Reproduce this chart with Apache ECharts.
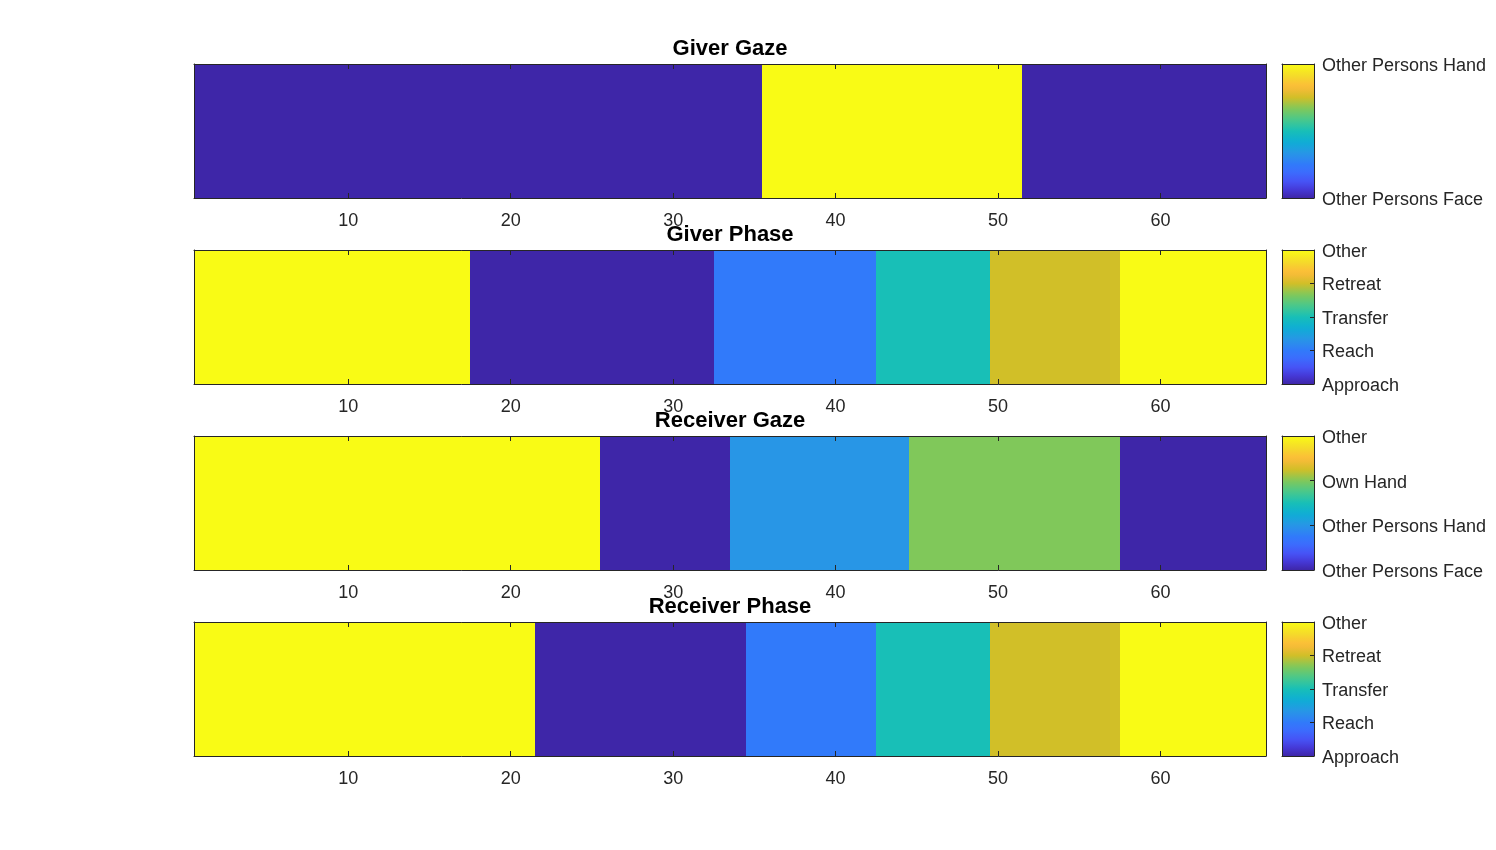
<!DOCTYPE html>
<html>
<head>
<meta charset="utf-8">
<script src="https://cdn.jsdelivr.net/npm/echarts@6/dist/echarts.min.js"></script>
<style>
html,body{margin:0;padding:0;background:#ffffff;}
#chart{width:1496px;height:850px;}
</style>
</head>
<body>
<div id="chart"></div>
<script>
// ---------------- data ----------------
const panelTitles = ['Giver Gaze', 'Giver Phase', 'Receiver Gaze', 'Receiver Phase'];

const giverGazeLabels = ['Other Persons Face', 'Other Persons Hand'];
const phaseLabels = ['Approach', 'Reach', 'Transfer', 'Retreat', 'Other'];
const receiverGazeLabels = ['Other Persons Face', 'Other Persons Hand', 'Own Hand', 'Other'];

const xTickValues = [10, 20, 30, 40, 50, 60];

// one code per frame (frames 1..66); code = 1-based index into the panel's label list
const giverGaze = [
  1,1,1,1,1,1,1,1,1,1, 1,1,1,1,1,1,1,1,1,1, 1,1,1,1,1,1,1,1,1,1, 1,1,1,1,1,
  2,2,2,2,2,2,2,2,2,2,2,2,2,2,2,2,
  1,1,1,1,1,1,1,1,1,1,1,1,1,1,1
];
const giverPhase = [
  5,5,5,5,5,5,5,5,5,5,5,5,5,5,5,5,5,
  1,1,1,1,1,1,1,1,1,1,1,1,1,1,1,
  2,2,2,2,2,2,2,2,2,2,
  3,3,3,3,3,3,3,
  4,4,4,4,4,4,4,4,
  5,5,5,5,5,5,5,5,5
];
const receiverGaze = [
  4,4,4,4,4,4,4,4,4,4,4,4,4,4,4,4,4,4,4,4,4,4,4,4,4,
  1,1,1,1,1,1,1,1,
  2,2,2,2,2,2,2,2,2,2,2,
  3,3,3,3,3,3,3,3,3,3,3,3,3,
  1,1,1,1,1,1,1,1,1
];
const receiverPhase = [
  5,5,5,5,5,5,5,5,5,5,5,5,5,5,5,5,5,5,5,5,5,
  1,1,1,1,1,1,1,1,1,1,1,1,1,
  2,2,2,2,2,2,2,2,
  3,3,3,3,3,3,3,
  4,4,4,4,4,4,4,4,
  5,5,5,5,5,5,5,5,5
];

const panelValues = [giverGaze, giverPhase, receiverGaze, receiverPhase];
const panelLabels = [giverGazeLabels, phaseLabels, receiverGazeLabels, phaseLabels];

// parula colormap anchors
const parulaStops = [
  [0.00, [62, 38, 168]],
  [0.06, [69, 56, 214]],
  [0.12, [71, 82, 245]],
  [0.19, [60, 108, 253]],
  [0.25, [49, 122, 250]],
  [0.333, [40, 150, 230]],
  [0.42, [14, 174, 212]],
  [0.50, [24, 191, 183]],
  [0.58, [70, 200, 142]],
  [0.667, [128, 200, 90]],
  [0.75, [209, 191, 40]],
  [0.83, [252, 187, 58]],
  [0.91, [245, 218, 42]],
  [1.00, [249, 251, 21]]
];

// ---------------- helpers ----------------
function parula(t) {
  t = Math.max(0, Math.min(1, t));
  for (let i = 1; i < parulaStops.length; i++) {
    const a = parulaStops[i - 1], b = parulaStops[i];
    if (t <= b[0]) {
      const f = (t - a[0]) / (b[0] - a[0]);
      const c = a[1].map((v, k) => Math.round(v + (b[1][k] - v) * f));
      return 'rgb(' + c.join(',') + ')';
    }
  }
  return 'rgb(' + parulaStops[parulaStops.length - 1][1].join(',') + ')';
}

const FONT = '"Liberation Sans", Arial, Helvetica, sans-serif';
const AX = '#262626';
const gridTops = [64, 250, 436, 622];
const gridH = 134;
const plotLeft = 194, plotWidth = 1072;
const cbLeft = 1282, cbWidth = 32;

const grids = [], xAxes = [], yAxes = [], series = [];

panelValues.forEach((vals, p) => {
  const n = panelLabels[p].length;
  const gi = grids.length;
  grids.push({left: plotLeft, top: gridTops[p], width: plotWidth, height: gridH});
  const cbi = grids.length;
  grids.push({left: cbLeft, top: gridTops[p], width: cbWidth, height: gridH});

  // main plot axes
  const xb = xAxes.length;
  xAxes.push({
    type: 'value', gridIndex: gi, position: 'bottom', min: 0.5, max: 66.5, z: 10,
    axisLine: {show: true, onZero: false, lineStyle: {color: AX, width: 1}},
    axisTick: {show: true, inside: true, length: 5, customValues: xTickValues, lineStyle: {color: AX, width: 1}},
    axisLabel: {show: true, customValues: xTickValues, margin: 14, fontSize: 18, color: AX, fontFamily: FONT},
    splitLine: {show: false}
  });
  xAxes.push({
    type: 'value', gridIndex: gi, position: 'top', min: 0.5, max: 66.5, z: 10,
    name: panelTitles[p], nameLocation: 'middle', nameGap: 4,
    nameTextStyle: {fontSize: 22, fontWeight: 'bold', color: '#000', fontFamily: FONT},
    axisLine: {show: true, onZero: false, lineStyle: {color: AX, width: 1}},
    axisTick: {show: true, inside: true, length: 5, customValues: xTickValues, lineStyle: {color: AX, width: 1}},
    axisLabel: {show: false},
    splitLine: {show: false}
  });
  const yl = yAxes.length;
  yAxes.push({
    type: 'value', gridIndex: gi, position: 'left', min: 0.5, max: 1.5, z: 10,
    axisLine: {show: true, onZero: false, lineStyle: {color: AX, width: 1}},
    axisTick: {show: false}, axisLabel: {show: false}, splitLine: {show: false}
  });
  yAxes.push({
    type: 'value', gridIndex: gi, position: 'right', min: 0.5, max: 1.5, z: 10,
    axisLine: {show: true, onZero: false, lineStyle: {color: AX, width: 1}},
    axisTick: {show: false}, axisLabel: {show: false}, splitLine: {show: false}
  });

  series.push({
    type: 'custom', xAxisIndex: xb, yAxisIndex: yl, z: 2,
    data: vals.map((v, i) => [i + 1, v]),
    renderItem: function (params, api) {
      const x = api.value(0), v = api.value(1);
      const p0 = api.coord([x - 0.5, 1.5]);
      const p1 = api.coord([x + 0.5, 0.5]);
      const x0 = Math.round(p0[0]), x1 = Math.round(p1[0]);
      const col = parula((v - 1) / (n - 1));
      return {
        type: 'rect',
        shape: {x: x0, y: p0[1], width: x1 - x0, height: p1[1] - p0[1]},
        style: {fill: col}
      };
    }
  });

  // colorbar axes
  const cx = xAxes.length;
  xAxes.push({
    type: 'value', gridIndex: cbi, position: 'bottom', min: 0, max: 1, z: 10,
    axisLine: {show: true, onZero: false, lineStyle: {color: AX, width: 1}},
    axisTick: {show: false}, axisLabel: {show: false}, splitLine: {show: false}
  });
  xAxes.push({
    type: 'value', gridIndex: cbi, position: 'top', min: 0, max: 1, z: 10,
    axisLine: {show: true, onZero: false, lineStyle: {color: AX, width: 1}},
    axisTick: {show: false}, axisLabel: {show: false}, splitLine: {show: false}
  });
  const codes = panelLabels[p].map((_, k) => k + 1);
  yAxes.push({
    type: 'value', gridIndex: cbi, position: 'left', min: 1, max: n, z: 10,
    axisLine: {show: true, onZero: false, lineStyle: {color: AX, width: 1}},
    axisTick: {show: false}, axisLabel: {show: false}, splitLine: {show: false}
  });
  const cyr = yAxes.length;
  const labs = panelLabels[p];
  yAxes.push({
    type: 'value', gridIndex: cbi, position: 'right', min: 1, max: n, z: 10,
    axisLine: {show: true, onZero: false, lineStyle: {color: AX, width: 1}},
    axisTick: {show: true, inside: true, length: 4, customValues: codes, lineStyle: {color: AX, width: 1}},
    axisLabel: {
      show: true, customValues: codes, margin: 8, color: AX,
      formatter: function (val) { return '{l|' + (labs[Math.round(val) - 1] || '') + '}'; },
      rich: {l: {fontSize: 18, color: AX, fontFamily: FONT, padding: [4, 0, 0, 0]}}
    },
    splitLine: {show: false}
  });
  const stops = [];
  for (let k = 0; k <= 32; k++) {
    const t = k / 32;
    stops.push({offset: 1 - t, color: parula(t)});
  }
  stops.sort((a, b) => a.offset - b.offset);
  series.push({
    type: 'custom', xAxisIndex: cx, yAxisIndex: cyr, z: 2,
    data: [[0, 1, 1, n]],
    renderItem: function (params, api) {
      const p0 = api.coord([api.value(0), api.value(3)]);
      const p1 = api.coord([api.value(2), api.value(1)]);
      return {
        type: 'rect',
        shape: {x: p0[0], y: p0[1], width: p1[0] - p0[0], height: p1[1] - p0[1]},
        style: {fill: new echarts.graphic.LinearGradient(0, 0, 0, 1, stops)}
      };
    }
  });
});

const chart = echarts.init(document.getElementById('chart'), null, {renderer: 'canvas'});
chart.setOption({
  backgroundColor: '#ffffff',
  animation: false,
  grid: grids,
  xAxis: xAxes,
  yAxis: yAxes,
  series: series
});
</script>
</body>
</html>
